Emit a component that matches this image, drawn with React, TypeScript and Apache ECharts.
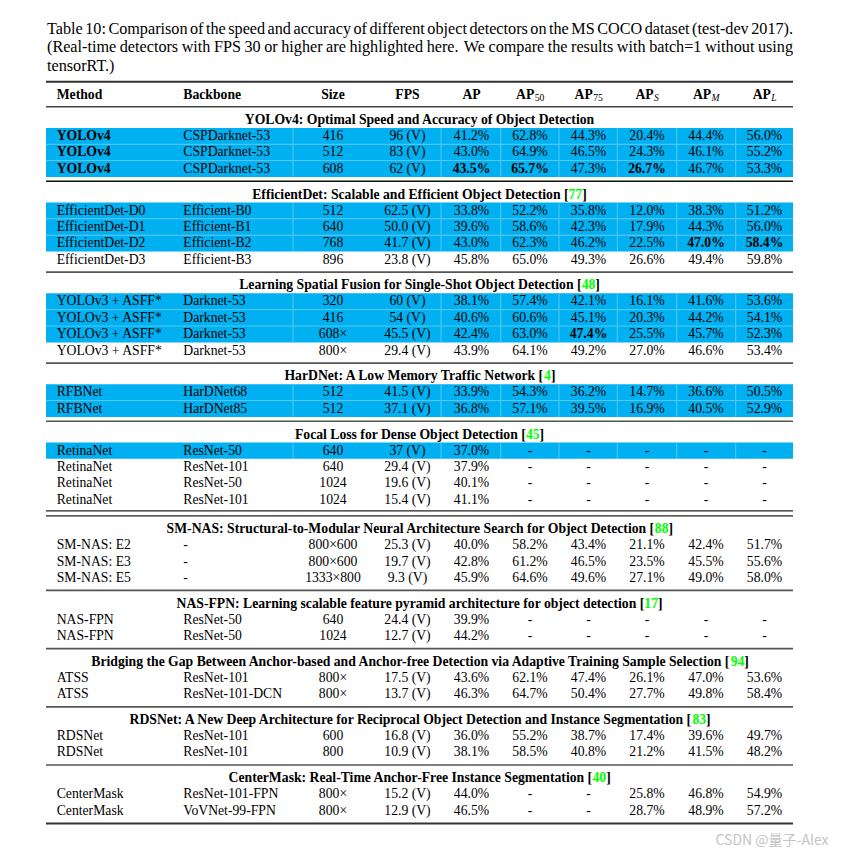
import React, { useEffect, useRef } from "react";
import * as echarts from "echarts";

const captionLines = [
  "Table 10: Comparison of the speed and accuracy of different object detectors on the MS COCO dataset (test-dev 2017).",
  "(Real-time detectors with FPS 30 or higher are highlighted here.  We compare the results with batch=1 without using",
  "tensorRT.)",
];
const headerLabels = ["Method", "Backbone", "Size", "FPS", "AP", "AP", "AP", "AP", "AP", "AP"];
const headerSubs = ["", "", "", "", "", "50", "75", "S", "M", "L"];
const headerSubItalic = [false, false, false, false, false, false, false, true, true, true];

const sectionTitles = [
  "YOLOv4: Optimal Speed and Accuracy of Object Detection",
  "EfficientDet: Scalable and Efficient Object Detection",
  "Learning Spatial Fusion for Single-Shot Object Detection",
  "HarDNet: A Low Memory Traffic Network",
  "Focal Loss for Dense Object Detection",
  "SM-NAS: Structural-to-Modular Neural Architecture Search for Object Detection",
  "NAS-FPN: Learning scalable feature pyramid architecture for object detection",
  "Bridging the Gap Between Anchor-based and Anchor-free Detection via Adaptive Training Sample Selection",
  "RDSNet: A New Deep Architecture for Reciprocal Object Detection and Instance Segmentation",
  "CenterMask: Real-Time Anchor-Free Instance Segmentation",
];
const sectionRefs = ["", "77", "48", "4", "45", "88", "17", "94", "83", "40"];
const sectionRowCounts = [3, 4, 4, 2, 4, 3, 2, 2, 2, 2];

const methods = [
  "YOLOv4", "YOLOv4", "YOLOv4",
  "EfficientDet-D0", "EfficientDet-D1", "EfficientDet-D2", "EfficientDet-D3",
  "YOLOv3 + ASFF*", "YOLOv3 + ASFF*", "YOLOv3 + ASFF*", "YOLOv3 + ASFF*",
  "RFBNet", "RFBNet",
  "RetinaNet", "RetinaNet", "RetinaNet", "RetinaNet",
  "SM-NAS: E2", "SM-NAS: E3", "SM-NAS: E5",
  "NAS-FPN", "NAS-FPN",
  "ATSS", "ATSS",
  "RDSNet", "RDSNet",
  "CenterMask", "CenterMask",
];
const backbones = [
  "CSPDarknet-53", "CSPDarknet-53", "CSPDarknet-53",
  "Efficient-B0", "Efficient-B1", "Efficient-B2", "Efficient-B3",
  "Darknet-53", "Darknet-53", "Darknet-53", "Darknet-53",
  "HarDNet68", "HarDNet85",
  "ResNet-50", "ResNet-101", "ResNet-50", "ResNet-101",
  "-", "-", "-",
  "ResNet-50", "ResNet-50",
  "ResNet-101", "ResNet-101-DCN",
  "ResNet-101", "ResNet-101",
  "ResNet-101-FPN", "VoVNet-99-FPN",
];
const sizes = [
  "416", "512", "608",
  "512", "640", "768", "896",
  "320", "416", "608×", "800×",
  "512", "512",
  "640", "640", "1024", "1024",
  "800×600", "800×600", "1333×800",
  "640", "1024",
  "800×", "800×",
  "600", "800",
  "800×", "800×",
];
const fpsValues = [
  "96", "83", "62",
  "62.5", "50.0", "41.7", "23.8",
  "60", "54", "45.5", "29.4",
  "41.5", "37.1",
  "37", "29.4", "19.6", "15.4",
  "25.3", "19.7", "9.3",
  "24.4", "12.7",
  "17.5", "13.7",
  "16.8", "10.9",
  "15.2", "12.9",
];
const apValues = [41.2, 43.0, 43.5, 33.8, 39.6, 43.0, 45.8, 38.1, 40.6, 42.4, 43.9, 33.9, 36.8, 37.0, 37.9, 40.1, 41.1, 40.0, 42.8, 45.9, 39.9, 44.2, 43.6, 46.3, 36.0, 38.1, 44.0, 46.5];
const ap50Values = [62.8, 64.9, 65.7, 52.2, 58.6, 62.3, 65.0, 57.4, 60.6, 63.0, 64.1, 54.3, 57.1, null, null, null, null, 58.2, 61.2, 64.6, null, null, 62.1, 64.7, 55.2, 58.5, null, null];
const ap75Values = [44.3, 46.5, 47.3, 35.8, 42.3, 46.2, 49.3, 42.1, 45.1, 47.4, 49.2, 36.2, 39.5, null, null, null, null, 43.4, 46.5, 49.6, null, null, 47.4, 50.4, 38.7, 40.8, null, null];
const apSValues = [20.4, 24.3, 26.7, 12.0, 17.9, 22.5, 26.6, 16.1, 20.3, 25.5, 27.0, 14.7, 16.9, null, null, null, null, 21.1, 23.5, 27.1, null, null, 26.1, 27.7, 17.4, 21.2, 25.8, 28.7];
const apMValues = [44.4, 46.1, 46.7, 38.3, 44.3, 47.0, 49.4, 41.6, 44.2, 45.7, 46.6, 36.6, 40.5, null, null, null, null, 42.4, 45.5, 49.0, null, null, 47.0, 49.8, 39.6, 41.5, 46.8, 48.9];
const apLValues = [56.0, 55.2, 53.3, 51.2, 56.0, 58.4, 59.8, 53.6, 54.1, 52.3, 53.4, 50.5, 52.9, null, null, null, null, 51.7, 55.6, 58.0, null, null, 53.6, 58.4, 49.7, 48.2, 54.9, 57.2];
const highlighted = [1, 1, 1, 1, 1, 1, 0, 1, 1, 1, 0, 1, 1, 1, 0, 0, 0, 0, 0, 0, 0, 0, 0, 0, 0, 0, 0, 0];
// "row:column" cells set in bold
const boldCells = ["0:0", "1:0", "2:0", "2:4", "2:5", "2:7", "5:8", "5:9", "9:6"];
const watermark = "CSDN @量子-Alex";

const FONT = '"Liberation Serif", "Times New Roman", Times, serif';

export default function App() {
  const ref = useRef<HTMLDivElement>(null);
  useEffect(() => {
    document.body.style.margin = "0";
    const chart = echarts.init(ref.current!, null, { renderer: "svg" });
    const ctx = document.createElement("canvas").getContext("2d")!;
    const measure = (s: string, size: number, weight = "normal", style = "normal") => {
      ctx.font = `${style} ${weight} ${size}px ${FONT}`;
      return ctx.measureText(s).width;
    };
    const els: any[] = [];
    const text = (x: number, y: number, s: string, size: number, align = "left", weight = "normal", fstyle = "normal", fill = "#000", family = FONT) => {
      els.push({
        type: "text",
        silent: true,
        style: {
          x, y, text: s, fill, fontSize: size, fontFamily: family, fontWeight: weight, fontStyle: fstyle,
          align, textAlign: align, verticalAlign: "middle", textVerticalAlign: "middle",
        },
      });
    };
    const hline = (x1: number, x2: number, y: number, w: number, color: string) => {
      els.push({ type: "line", silent: true, shape: { x1, y1: y, x2, y2: y }, style: { stroke: color, lineWidth: w } });
    };
    const vline = (x: number, y1: number, y2: number, w: number, color: string) => {
      els.push({ type: "line", silent: true, shape: { x1: x, y1, x2: x, y2 }, style: { stroke: color, lineWidth: w } });
    };

    // caption
    const capSize = 16.2;
    const L = 47, R = 793;
    captionLines.forEach((line, i) => {
      const y = 29 + i * 18.4;
      if (i === captionLines.length - 1) {
        text(L, y, line, capSize);
        return;
      }
      const parts = line.split(/( +)/).filter((p) => p.length);
      const words: string[] = [];
      const weights: number[] = [];
      parts.forEach((p) => {
        if (p.trim().length === 0) weights.push(p.length > 1 ? 1.5 : 1);
        else words.push(p);
      });
      const wWidths = words.map((w) => measure(w, capSize));
      const total = wWidths.reduce((a, b) => a + b, 0);
      const wsum = weights.reduce((a, b) => a + b, 0);
      const unit = (R - L - total) / wsum;
      let x = L;
      words.forEach((w, k) => {
        text(x, y, w, capSize);
        x += wWidths[k] + (k < weights.length ? weights[k] * unit : 0);
      });
    });

    const TL = 46, TR = 793;
    const FS = 13.7;
    const colX = [56.7, 183.3, 333, 407.5, 471.5, 530, 588.5, 647, 706, 764.5];
    const colAlign = ["left", "left", "center", "center", "center", "center", "center", "center", "center", "center"];
    const sepX = [293, 441, 500.7, 559, 617.3, 676.7, 735.7];
    const BLUE = "#00b0f0";
    const SEP = "#55c8f3";
    const RH = 16.35;

    // rules
    hline(TL, TR, 81.7, 2, "#333");
    hline(TL, TR, 106.7, 1.6, "#444");

    // header
    headerLabels.forEach((h, c) => {
      const y = 94.6;
      if (!headerSubs[c]) {
        text(colX[c], y, h, FS, colAlign[c], "bold");
      } else {
        const subSize = 9.6;
        const w1 = measure(h, FS, "bold");
        const w2 = measure(headerSubs[c], subSize, "normal", headerSubItalic[c] ? "italic" : "normal");
        const x0 = colX[c] - (w1 + w2) / 2;
        text(x0, y, h, FS, "left", "bold");
        text(x0 + w1 + 0.3, y + 3, headerSubs[c], subSize, "left", "normal", headerSubItalic[c] ? "italic" : "normal");
      }
    });

    const fmt = (v: number | null) => (v === null ? "-" : `${v.toFixed(1)}%`);
    const columns: string[][] = [
      methods, backbones, sizes, fpsValues.map((f) => `${f} (V)`),
      apValues.map(fmt), ap50Values.map(fmt), ap75Values.map(fmt), apSValues.map(fmt), apMValues.map(fmt), apLValues.map(fmt),
    ];

    let ruleY = 106.7;
    let rowIdx = 0;
    sectionTitles.forEach((title, s) => {
      const tt = sectionRefs[s] ? `${title} [{g|${sectionRefs[s]}}]` : title;
      els.push({
        type: "text",
        silent: true,
        style: {
          x: (TL + TR) / 2, y: ruleY + 12.8, text: tt, fill: "#000", fontSize: FS, fontFamily: FONT, fontWeight: "bold",
          align: "center", textAlign: "center", verticalAlign: "middle", textVerticalAlign: "middle",
          rich: { g: { fill: "#00ff00", fontSize: FS, fontFamily: FONT, fontWeight: "bold" } },
        },
      });
      const top = ruleY + 21.2;
      const n = sectionRowCounts[s];
      // backgrounds
      for (let r = 0; r < n; r++) {
        const i = rowIdx + r;
        if (highlighted[i]) {
          els.push({ type: "rect", silent: true, shape: { x: TL, y: top + r * RH, width: TR - TL, height: RH }, style: { fill: BLUE } });
        }
      }
      for (let r = 0; r < n; r++) {
        const i = rowIdx + r;
        if (highlighted[i]) {
          const y0 = top + r * RH;
          sepX.forEach((x) => vline(x, y0, y0 + RH, 1, SEP));
          if (r > 0 && highlighted[i - 1]) hline(TL, TR, y0, 1, SEP);
        }
      }
      // cells
      for (let r = 0; r < n; r++) {
        const i = rowIdx + r;
        const y = top + r * RH + 7.6;
        columns.forEach((col, c) => {
          const bold = boldCells.indexOf(`${i}:${c}`) >= 0;
          text(colX[c], y, col[i], FS, colAlign[c], bold ? "bold" : "normal");
        });
      }
      const end = top + n * RH;
      if (s === 4) {
        hline(TL, TR, end + 3, 1.2, "#222");
        hline(TL, TR, end + 8, 1.2, "#222");
        ruleY = end + 8;
      } else if (s === sectionTitles.length - 1) {
        ruleY = end + 4.6;
        hline(TL, TR, ruleY, 2, "#333");
      } else {
        ruleY = end + 4.3;
        hline(TL, TR, ruleY, s === 0 ? 1.3 : 1.7, s === 0 ? "#111" : "#555");
      }
      rowIdx += n;
    });

    text(772, 838.5, watermark, 14, "center", "normal", "normal", "#c4c4c4", '"Noto Sans CJK SC", "Noto Sans", sans-serif');

    chart.setOption({ animation: false, graphic: { elements: els } });
    return () => chart.dispose();
  }, []);
  return <div ref={ref} style={{ width: 844, height: 854, background: "#fff" }} />;
}
